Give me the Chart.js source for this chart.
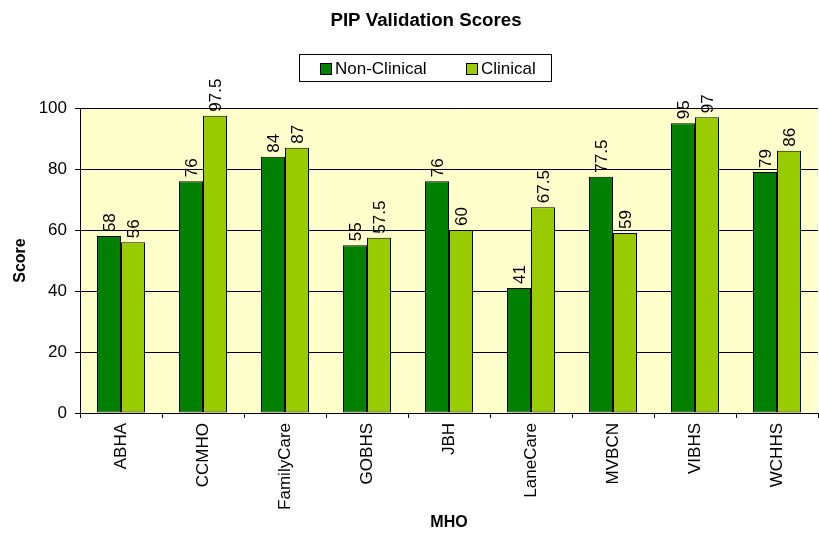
<!DOCTYPE html>
<html>
<head>
<meta charset="utf-8">
<script src="https://cdn.jsdelivr.net/npm/chart.js@4.4.1/dist/chart.umd.min.js"></script>
<style>
  html, body { margin: 0; padding: 0; background: #fff; }
</style>
</head>
<body>
<canvas id="pipChart" width="819" height="537"></canvas>
<script>
const categories = ["ABHA", "CCMHO", "FamilyCare", "GOBHS", "JBH", "LaneCare", "MVBCN", "VIBHS", "WCHHS"];
const nonClinical = [58, 76, 84, 55, 76, 41, 77.5, 95, 79];
const clinical = [56, 97.5, 87, 57.5, 60, 67.5, 59, 97, 86];
const yTicks = [0, 20, 40, 60, 80, 100];

const FONT = "'Liberation Sans', Arial, sans-serif";

// plot background + header (title and boxed legend)
const decor = {
    id: "decor",
    beforeDraw(chart) {
        const { ctx, chartArea } = chart;
        ctx.save();
        ctx.fillStyle = "#FFFFCC";
        ctx.fillRect(chartArea.left, chartArea.top, chartArea.right - chartArea.left, chartArea.bottom - chartArea.top);
        ctx.restore();
    },
    afterDraw(chart) {
        const { ctx } = chart;
        ctx.save();
        ctx.fillStyle = "#000";
        ctx.font = "bold 18.7px " + FONT;
        ctx.textAlign = "center";
        ctx.textBaseline = "middle";
        ctx.fillText("PIP Validation Scores", 426, 21);

        // legend box
        ctx.strokeStyle = "#000";
        ctx.lineWidth = 1;
        ctx.strokeRect(299.5, 54.5, 252, 27);
        ctx.font = "17px " + FONT;
        ctx.textAlign = "left";
        const xs = [320, 466];
        chart.data.datasets.forEach((ds, i) => {
            ctx.fillStyle = ds.backgroundColor;
            ctx.fillRect(xs[i], 63, 11, 11);
            ctx.strokeRect(xs[i] + 0.5, 63.5, 11, 11);
            ctx.fillStyle = "#000";
            ctx.fillText(ds.label, xs[i] + 15, 69);
        });
        ctx.restore();
    },
};

// rotated value labels above each bar
const valueLabels = {
    id: "valueLabels",
    afterDatasetsDraw(chart) {
        const { ctx } = chart;
        ctx.save();
        ctx.font = "17px " + FONT;
        ctx.fillStyle = "#000";
        ctx.textAlign = "left";
        ctx.textBaseline = "middle";
        chart.data.datasets.forEach((ds, i) => {
            chart.getDatasetMeta(i).data.forEach((bar, j) => {
                ctx.save();
                ctx.translate(bar.x, bar.y - 4);
                ctx.rotate(-Math.PI / 2);
                ctx.fillText(String(ds.data[j]), 0, 1);
                ctx.restore();
            });
        });
        ctx.restore();
    },
};

new Chart(document.getElementById("pipChart"), {
    type: "bar",
    data: {
        labels: categories,
        datasets: [
            {
                label: "Non-Clinical",
                data: nonClinical,
                backgroundColor: "#008000",
                borderColor: "#000",
                borderWidth: 1,
                borderSkipped: false,
            },
            {
                label: "Clinical",
                data: clinical,
                backgroundColor: "#99CC00",
                borderColor: "#000",
                borderWidth: 1,
                borderSkipped: false,
            },
        ],
    },
    options: {
        responsive: false,
        animation: false,
        layout: { padding: { top: 108, right: 1, left: 0, bottom: 0 } },
        datasets: { bar: { categoryPercentage: 0.585, barPercentage: 1 } },
        scales: {
            x: {
                offset: true,
                grid: { offset: true, drawOnChartArea: false, drawTicks: true, tickLength: 5, color: "#000" },
                border: { display: true, color: "#000" },
                ticks: {
                    color: "#000",
                    font: { family: FONT, size: 17 },
                    minRotation: 90,
                    maxRotation: 90,
                    padding: 5,
                    autoSkip: false,
                },
                title: {
                    display: true,
                    text: "MHO",
                    color: "#000",
                    font: { family: FONT, size: 16, weight: "bold" },
                    padding: { top: 4, bottom: 5 },
                },
                afterFit(scale) { scale.height = 124; },
            },
            y: {
                min: 0,
                max: 100,
                afterBuildTicks(scale) { scale.ticks = yTicks.map((v) => ({ value: v })); },
                grid: { color: "#000", tickLength: 5, drawTicks: true },
                border: { display: true, color: "#000" },
                ticks: {
                    color: "#000",
                    font: { family: FONT, size: 17 },
                    padding: 8,
                },
                title: {
                    display: true,
                    text: "Score",
                    color: "#000",
                    font: { family: FONT, size: 16, weight: "bold" },
                    padding: { top: 11, bottom: 0 },
                },
                afterFit(scale) { scale.width = 80; },
            },
        },
        plugins: {
            legend: { display: false },
            title: { display: false },
            tooltip: { enabled: false },
        },
    },
    plugins: [decor, valueLabels],
});
</script>
</body>
</html>
